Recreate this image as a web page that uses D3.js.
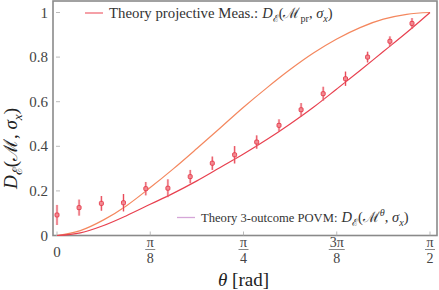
<!DOCTYPE html>
<html>
<head>
<meta charset="utf-8">
<script src="https://cdn.jsdelivr.net/npm/d3@7"></script>
<style>
  body { margin: 0; background: #fff; }
</style>
</head>
<body>
<script>
// theta grid of the theory curves (k * pi/32)
var thetaTheory = [0, 0.0982, 0.1963, 0.2945, 0.3927, 0.4909, 0.5890, 0.6872, 0.7854,
                   0.8836, 0.9817, 1.0799, 1.1781, 1.2763, 1.3744, 1.4726, 1.5708];
// projective measurement theory (orange)
var projValues = [0, 0.022, 0.07, 0.135, 0.215, 0.3, 0.39, 0.482, 0.575,
                  0.662, 0.744, 0.818, 0.881, 0.932, 0.97, 0.992, 1];
// 3-outcome POVM theory (red)
var povmValues = [0, 0.012, 0.045, 0.09, 0.14, 0.19, 0.245, 0.305, 0.365,
                  0.43, 0.5, 0.575, 0.657, 0.74, 0.825, 0.91, 1];

// measured points
var thetaData = [0, 0.093, 0.187, 0.28, 0.374, 0.467, 0.561, 0.654, 0.748,
                 0.841, 0.935, 1.028, 1.121, 1.215, 1.308, 1.402, 1.495];
var dataValues = [0.092, 0.125, 0.144, 0.147, 0.21, 0.212, 0.264, 0.324, 0.362,
                  0.419, 0.494, 0.564, 0.636, 0.703, 0.80, 0.871, 0.951];
var dataErrors = [0.045, 0.036, 0.033, 0.039, 0.03, 0.04, 0.03, 0.03, 0.039,
                  0.03, 0.027, 0.03, 0.031, 0.032, 0.024, 0.022, 0.024];

var yTicks = [0, 0.2, 0.4, 0.6, 0.8, 1];
var yTickLabels = ["0", "0.2", "0.4", "0.6", "0.8", "1"];
var xTicks = [0, Math.PI / 8, Math.PI / 4, 3 * Math.PI / 8, Math.PI / 2];
var xTickNum = ["0", "π", "π", "3π", "π"];
var xTickDen = ["", "8", "4", "8", "2"];

var width = 439, height = 290;
var serif = "'Liberation Serif', 'Times New Roman', serif";

var svg = d3.select("body").append("svg")
  .attr("width", width)
  .attr("height", height)
  .attr("font-family", serif);

var x = d3.scaleLinear().domain([0, Math.PI / 2]).range([57, 430]);
var y = d3.scaleLinear().domain([0, 1]).range([235.5, 12.5]);

// frame
svg.append("rect")
  .attr("x", x(0) - 4)
  .attr("y", y(1) - 11.5)
  .attr("width", x(Math.PI / 2) + 7 - (x(0) - 4))
  .attr("height", y(0) - (y(1) - 11.5))
  .attr("fill", "none")
  .attr("stroke", "#8a8a8a")
  .attr("stroke-width", 1.6);

// y ticks + labels
svg.selectAll(".ytick")
  .data(yTicks)
  .enter().append("line")
  .attr("class", "ytick")
  .attr("x1", x(0) - 1).attr("x2", x(0) + 3)
  .attr("y1", d => y(d)).attr("y2", d => y(d))
  .attr("stroke", "#aaa").attr("stroke-width", 0.8);

svg.selectAll(".ylab")
  .data(yTicks)
  .enter().append("text")
  .attr("class", "ylab")
  .attr("x", 48)
  .attr("y", d => y(d) + 5)
  .attr("text-anchor", "end")
  .attr("font-size", 15)
  .attr("fill", "#444")
  .text((d, i) => yTickLabels[i]);

// x ticks + labels
svg.selectAll(".xtick")
  .data(xTicks)
  .enter().append("line")
  .attr("class", "xtick")
  .attr("x1", d => x(d)).attr("x2", d => x(d))
  .attr("y1", y(0)).attr("y2", y(0) - 4)
  .attr("stroke", "#aaa").attr("stroke-width", 0.8);

var xl = svg.selectAll(".xlab")
  .data(xTicks)
  .enter().append("g")
  .attr("class", "xlab")
  .attr("transform", d => "translate(" + x(d) + ",0)");

xl.each(function(d, i) {
  var g = d3.select(this);
  if (xTickDen[i] === "") {
    g.append("text").attr("y", 257).attr("text-anchor", "middle")
      .attr("font-size", 15).attr("fill", "#444").text(xTickNum[i]);
  } else {
    g.append("text").attr("y", 247).attr("text-anchor", "middle")
      .attr("font-size", 14).attr("fill", "#444").text(xTickNum[i]);
    g.append("line").attr("x1", i === 3 ? -8 : -5).attr("x2", i === 3 ? 8 : 5)
      .attr("y1", 249.5).attr("y2", 249.5)
      .attr("stroke", "#555").attr("stroke-width", 0.7);
    g.append("text").attr("y", 263).attr("text-anchor", "middle")
      .attr("font-size", 14).attr("fill", "#444").text(xTickDen[i]);
  }
});

// theory curves
var line = d3.line()
  .x(d => x(d[0]))
  .y(d => y(d[1]))
  .curve(d3.curveMonotoneX);

svg.append("path")
  .datum(thetaTheory.map((t, i) => [t, projValues[i]]))
  .attr("d", line)
  .attr("fill", "none")
  .attr("stroke", "#f4875e")
  .attr("stroke-width", 1.2);

svg.append("path")
  .datum(thetaTheory.map((t, i) => [t, povmValues[i]]))
  .attr("d", line)
  .attr("fill", "none")
  .attr("stroke", "#e8404f")
  .attr("stroke-width", 1.2);

// data with error bars
var pts = thetaData.map((t, i) => ({t: t, v: dataValues[i], e: dataErrors[i]}));

svg.selectAll(".errHalo")
  .data(pts)
  .enter().append("line")
  .attr("class", "errHalo")
  .attr("x1", d => x(d.t)).attr("x2", d => x(d.t))
  .attr("y1", d => y(d.v - d.e)).attr("y2", d => y(d.v + d.e))
  .attr("stroke", "#f29aa0").attr("stroke-opacity", 0.45).attr("stroke-width", 2.6);

svg.selectAll(".err")
  .data(pts)
  .enter().append("line")
  .attr("class", "err")
  .attr("x1", d => x(d.t)).attr("x2", d => x(d.t))
  .attr("y1", d => y(d.v - d.e)).attr("y2", d => y(d.v + d.e))
  .attr("stroke", "#e5394a").attr("stroke-width", 0.9);

svg.selectAll(".pt")
  .data(pts)
  .enter().append("rect")
  .attr("class", "pt")
  .attr("x", d => x(d.t) - 2).attr("y", d => y(d.v) - 2)
  .attr("width", 4).attr("height", 4)
  .attr("rx", 1)
  .attr("fill", "#f28a92")
  .attr("stroke", "#e5394a")
  .attr("stroke-width", 0.9);

// math-ish label helper: parts are [text, style] where style: i=italic, s=sub, p=sup
function mathText(sel, parts, size) {
  var t = sel.attr("font-size", size);
  var shift = 0;
  parts.forEach(function(p) {
    var sp = t.append("tspan").text(p[0]);
    var style = p[1] || "";
    var target = 0;
    if (style.indexOf("s") >= 0) target = size * 0.28;
    if (style.indexOf("p") >= 0) target = -size * 0.38;
    if (target !== shift) { sp.attr("dy", target - shift); shift = target; }
    if (style.indexOf("s") >= 0 || style.indexOf("p") >= 0) sp.attr("font-size", size * 0.7);
    if (style.indexOf("i") >= 0) sp.attr("font-style", "italic");
  });
  return t;
}

// legend: sample line, plain words, then the formula right after them
function legendEntry(lx, ly, color, words, wordsSize, formula) {
  svg.append("line")
    .attr("x1", lx).attr("x2", lx + 18).attr("y1", ly - 4.5).attr("y2", ly - 4.5)
    .attr("stroke", color).attr("stroke-width", 1.3);
  var w = svg.append("text")
    .attr("x", lx + 24).attr("y", ly)
    .attr("font-size", wordsSize).attr("fill", "#333")
    .text(words);
  var wl = w.node().getComputedTextLength();
  mathText(svg.append("text").attr("x", lx + 24 + wl + 4).attr("y", ly).attr("fill", "#333"),
    formula, 14.5);
}

legendEntry(85, 17.5, "#f06c78", "Theory projective Meas.:", 14.8,
  [["D", "i"], ["ℰ", "s"], ["(ℳ"], ["pr", "s"], [", "], ["σ", "i"], ["x", "si"], [")"]]);
legendEntry(177, 222, "#d5a6d8", "Theory 3-outcome POVM:", 12.6,
  [["D", "i"], ["ℰ", "s"], ["(ℳ"], ["θ", "pi"], [", "], ["σ", "i"], ["x", "si"], [")"]]);

// axis titles
mathText(svg.append("text").attr("x", x(Math.PI / 4)).attr("y", 286)
  .attr("text-anchor", "middle").attr("fill", "#222"),
  [["θ", "i"], [" [rad]"]], 19);

mathText(svg.append("text")
  .attr("transform", "translate(17," + y(0.39) + ") rotate(-90)")
  .attr("text-anchor", "middle").attr("fill", "#222"),
  [["D", "i"], ["ℰ", "s"], ["(ℳ, "], ["σ", "i"], ["x", "si"], [")"]], 19);
</script>
</body>
</html>
